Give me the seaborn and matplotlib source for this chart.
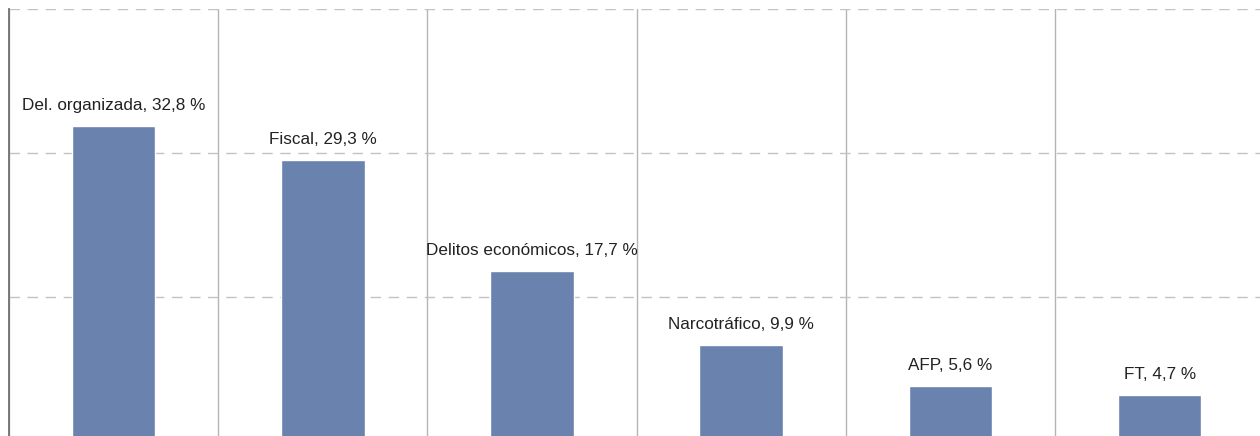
import numpy as np
import pandas as pd
import matplotlib
matplotlib.use("Agg")
import matplotlib.pyplot as plt
import seaborn as sns

categories = ["Del. organizada", "Fiscal", "Delitos económicos", "Narcotráfico", "AFP", "FT"]
shares = [32.8, 29.3, 17.7, 9.9, 5.6, 4.7]
value_labels = ["32,8 %", "29,3 %", "17,7 %", "9,9 %", "5,6 %", "4,7 %"]
grid_values = [15, 30, 45]

df = pd.DataFrame({"categoria": categories, "porcentaje": shares})

sns.set_theme(style="white")
plt.rcParams["font.family"] = ["Liberation Sans", "DejaVu Sans"]

W, H = 1260, 436
fig = plt.figure(figsize=(W / 100, H / 100), dpi=100)
left_px, top_px, bottom_px, slot_px = 9, 9.5, 440, 209.2
ax = fig.add_axes([left_px / W, (H - bottom_px) / H,
                   6 * slot_px / W, (bottom_px - top_px) / H])

sns.barplot(data=df, x="categoria", y="porcentaje", color="#6a82ae",
            width=0.4, saturation=1, ax=ax, zorder=3)

ax.set_ylim(0, 45)
ax.set_xlim(-0.5, len(categories) - 0.5)
ax.set_yticks(grid_values)
ax.set_xticks(np.arange(len(categories)) - 0.5, minor=True)
ax.set_xticks([])
ax.set_yticklabels([])
ax.tick_params(left=False, bottom=False, which="both")
ax.set_xlabel("")
ax.set_ylabel("")

ax.grid(axis="y", which="major", color="#c2c2c2", linewidth=1.0,
        linestyle=(0, (7.5, 5.5)), zorder=1)
ax.grid(axis="x", which="minor", color="#b4b4b4", linewidth=1.0,
        linestyle="-", zorder=1)

for side in ("top", "right", "bottom"):
    ax.spines[side].set_visible(False)
ax.spines["left"].set_color("#707070")
ax.spines["left"].set_linewidth(1.3)

for i, (cat, val, lab) in enumerate(zip(categories, shares, value_labels)):
    ax.annotate(f"{cat}, {lab}", xy=(i, val), xytext=(0, 11.5),
                textcoords="offset points", ha="center", va="baseline",
                fontsize=12.3, color="#222222")

fig.savefig("out.png", dpi=100)
